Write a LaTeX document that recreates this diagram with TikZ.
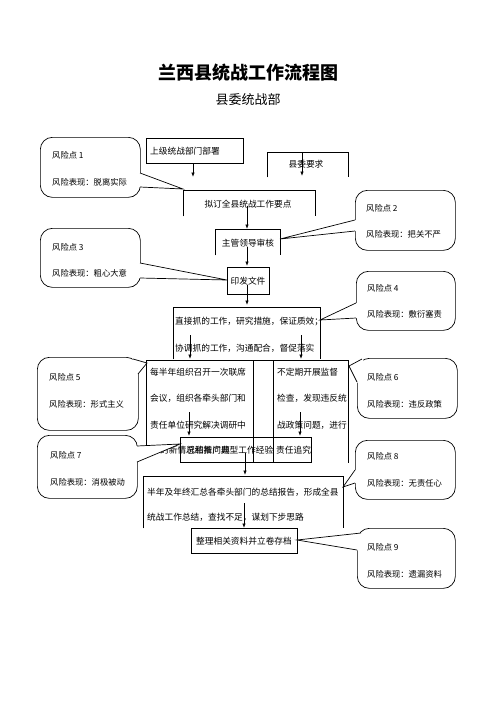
\documentclass[tikz,border=0pt]{standalone}
\usepackage{fontspec}
\setmainfont{Noto Sans CJK SC}
\usetikzlibrary{calc,arrows.meta}
\tikzset{
 ln/.style={line width=0.7pt},
 arr/.style={ln,-{Latex[length=4.5pt,width=3.4pt]}},
 box/.style={draw,ln,inner sep=0,anchor=north west},
 ghost/.style={inner sep=0,anchor=north west},
 tx/.style={inner sep=0,anchor=west,font=\fontsize{8.7}{10}\selectfont},
 tc/.style={inner sep=0,font=\fontsize{8.7}{10}\selectfont},
 rk/.style={inner sep=0,anchor=west,font=\fontsize{8.3}{10}\selectfont},
 bub/.style={draw,ln,rounded corners=12pt,inner sep=0,anchor=north west},
}
\newcommand\openbox[1]{\draw[ln] (#1.south west) -- (#1.north west) -- (#1.north east) -- (#1.south east);}
\newcommand\pointer[4]{%
 \fill[white] ($#1+(#4)$) -- #1 -- #2 -- #3 -- ($#3+(#4)$) -- cycle;
 \draw[ln,line join=miter] #1 -- #2 -- #3;}
\begin{document}
\begin{tikzpicture}[x=1pt,y=-1pt]
\useasboundingbox[fill=white] (0,0) rectangle (496,702);
% title
\node[inner sep=0,font=\fontsize{18}{20}\selectfont\bfseries] (title) at (248,73) {兰西县统战工作流程图};
\node[inner sep=0,font=\fontsize{13}{15}\selectfont] (sub) at (248,100) {县委统战部};

% flow boxes
\node[box,minimum width=97pt,minimum height=25pt] (b1) at (146,138) {};
\node[tx] (t1) at (150,151) {上级统战部门部署};
\node[ghost,minimum width=81pt,minimum height=25pt] (b2) at (267,152) {};
\openbox{b2}
\node[tc] (t2) at (306,164) {县委要求};
\node[ghost,minimum width=132pt,minimum height=26pt] (b3) at (183,190) {};
\openbox{b3}
\node[tc] (t3) at (248,204) {拟订全县统战工作要点};
\node[ghost,minimum width=65pt,minimum height=26pt] (b4) at (215,229) {};
\openbox{b4}
\node[tc] (t4) at (248,243) {主管领导审核};
\node[box,minimum width=42pt,minimum height=27pt] (b5) at (227,267) {};
\node[tc] (t5) at (248,281) {印发文件};
\node[ghost,minimum width=147pt,minimum height=52pt] (b6) at (173,307) {};
\openbox{b6}
\node[tx] (t6a) at (175,322) {直接抓的工作，研究措施，保证质效；};
\node[tx] (t6b) at (175,348) {协调抓的工作，沟通配合，督促落实};

% three columns
\node[ghost,minimum width=107pt,minimum height=87pt] (b7l) at (146,360) {};
\node[ghost,minimum width=20pt,minimum height=103pt] (b7m) at (253,360) {};
\node[ghost,minimum width=75pt,minimum height=103pt] (b7r) at (273,360) {};
\draw[ln] (b7l.south west) -- (b7l.north west) -- (b7r.north east) -- (b7r.south east);
\draw[ln] (b7m.north west) -- (b7m.south west);
\draw[ln] (b7m.north east) -- (b7m.south east);
\node[tx] (t7a) at (150,372) {每半年组织召开一次联席};
\node[tx] (t7b) at (150,398) {会议，组织各牵头部门和};
\node[tx] (t7c) at (150,425) {责任单位研究解决调研中};
\node[tx] (t7d) at (277,372) {不定期开展监督};
\node[tx] (t7e) at (277,398) {检查，发现违反统};
\node[tx] (t7f) at (277,425) {战政策问题，进行};

\node[box,minimum width=131pt,minimum height=25pt] (b8) at (180,437) {};
\node[tx] (t8a) at (160,450) {的新情况和新问题};
\node[tx] (t8b) at (186,450) {总结推广典型工作经验};
\node[tx] (t8c) at (276,450) {责任追究};

\node[ghost,minimum width=200pt,minimum height=52pt] (b9) at (143,476) {};
\openbox{b9}
\node[tx] (t9a) at (147,492) {半年及年终汇总各牵头部门的总结报告，形成全县};
\node[tx] (t9b) at (147,517) {统战工作总结，查找不足，谋划下步思路};
\node[box,minimum width=106pt,minimum height=25pt] (b10) at (191,528) {};
\node[tc] (t10) at (244,541) {整理相关资料并立卷存档};

% arrows
\coordinate (s1) at (193,163); \coordinate (e1) at (193,177);
\coordinate (s2) at (302,152); \coordinate (e2) at (302,176);
\coordinate (s3) at (247,206); \coordinate (e3) at (247,229);
\coordinate (s4) at (247,247); \coordinate (e4) at (247,266);
\coordinate (s5) at (247,285); \coordinate (e5) at (247,305);
\coordinate (s6) at (190,335); \coordinate (e6) at (190,359);
\coordinate (s7) at (301,335); \coordinate (e7) at (301,359);
\coordinate (s8) at (189,412); \coordinate (e8) at (189,436);
\coordinate (s9) at (300,412); \coordinate (e9) at (300,436);
\coordinate (s10) at (245,453); \coordinate (e10) at (245,475);
\coordinate (s11) at (244,503); \coordinate (e11) at (244,528);
\foreach \i in {1,...,11} {\draw[arr] (s\i) -- (e\i);}

% risk callouts
\node[bub,minimum width=100pt,minimum height=60pt] (c1) at (40,137) {};
\pointer{(140,173)}{(183,189)}{(140,187)}{-2,0}
\node[rk] at (52,155) {风险点 1};
\node[rk] at (52,182) {风险表现：脱离实际};

\node[bub,minimum width=100pt,minimum height=60pt] (c2) at (355,190) {};
\pointer{(355,220)}{(280,239)}{(355,231)}{2,0}
\node[rk] at (366,208) {风险点 2};
\node[rk] at (366,234) {风险表现：把关不严};

\node[bub,minimum width=100pt,minimum height=59pt] (c3) at (40,228) {};
\pointer{(140,263)}{(227,280)}{(140,278)}{-2,0}
\node[rk] at (52,247) {风险点 3};
\node[rk] at (52,273) {风险表现：粗心大意};

\node[bub,minimum width=99pt,minimum height=59pt] (c4) at (356,271) {};
\pointer{(356,303)}{(320,320)}{(356,318)}{2,0}
\node[rk] at (367,288) {风险点 4};
\node[rk] at (367,314) {风险表现：敷衍塞责};

\node[bub,minimum width=101pt,minimum height=73pt] (c5) at (37,357) {};
\pointer{(133,359)}{(147,363)}{(138,374)}{-2,2}
\node[rk] at (49,377) {风险点 5};
\node[rk] at (49,404) {风险表现：形式主义};

\node[bub,minimum width=100pt,minimum height=60pt] (c6) at (357,358) {};
\pointer{(362,359)}{(349,366)}{(357,382)}{2,2}
\node[rk] at (367,377) {风险点 6};
\node[rk] at (367,404) {风险表现：违反政策};

\node[bub,minimum width=100pt,minimum height=63pt] (c7) at (37,435) {};
\pointer{(137,446)}{(180,444)}{(137,462)}{-2,0}
\node[rk] at (50,455) {风险点 7};
\node[rk] at (50,482) {风险表现：消极被动};

\node[bub,minimum width=100pt,minimum height=59pt] (c8) at (355,440) {};
\pointer{(355,470)}{(343,487)}{(355,483)}{2,0}
\node[rk] at (367,456) {风险点 8};
\node[rk] at (367,483) {风险表现：无责任心};

\node[bub,minimum width=98pt,minimum height=60pt] (c9) at (357,528) {};
\pointer{(361,533)}{(297,540)}{(357,550)}{2,1}
\node[rk] at (367,547) {风险点 9};
\node[rk] at (367,574) {风险表现：遗漏资料};
\end{tikzpicture}
\end{document}
